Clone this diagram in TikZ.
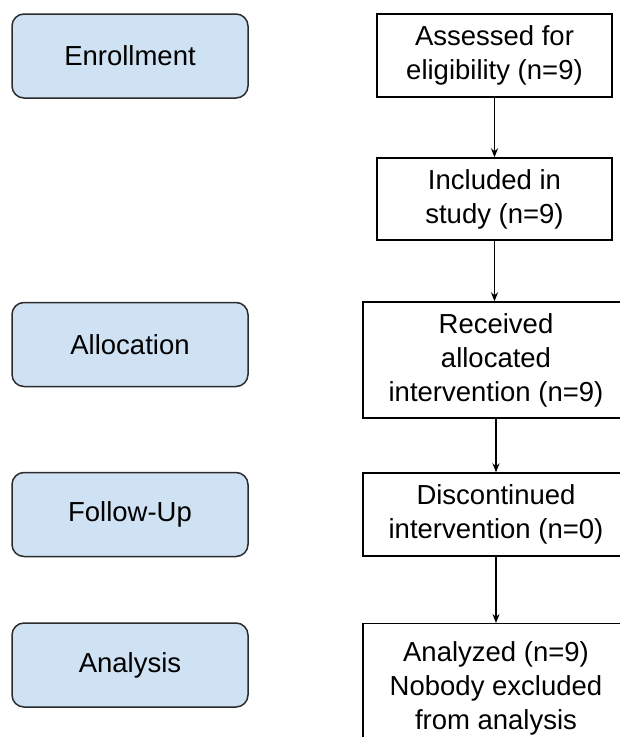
\documentclass[tikz,border=0pt]{standalone}
\usepackage{fontspec}
\setmainfont{Liberation Sans}
\usetikzlibrary{arrows.meta}
\definecolor{phasefill}{HTML}{CFE2F3}
\definecolor{phaseline}{HTML}{2B2B2B}
\tikzset{
  phase/.style={draw=phaseline, fill=phasefill, line width=1.5pt, rounded corners=12pt,
    minimum width=236pt, minimum height=84pt, inner sep=0pt, align=center,
    font=\fontsize{27.5}{34}\selectfont},
  flowbox/.style={draw=black, line width=1.4pt, fill=white, inner sep=0pt, align=center,
    font=\fontsize{27.5}{34}\selectfont},
  flowarrow/.style={draw=black, line width=1.4pt, -{Stealth[length=9pt,width=7pt]}}
}
\begin{document}
\begin{tikzpicture}[x=1pt,y=-1pt]
\useasboundingbox (0,0) rectangle (620,737);
\clip (0,0) rectangle (620,737);
\fill[white] (0,0) rectangle (620,737);
% phases
\node[phase] (enr) at (130,56) {Enrollment};
\node[phase] (alo) at (130,344.5) {Allocation};
\node[phase] (fol) at (130,514.5) {Follow-Up};
\node[phase] (ana) at (130,665) {Analysis};
% flow
\node[flowbox, minimum width=235pt, minimum height=83pt] (ass) at (494.5,55.5) {Assessed for\\eligibility (n=9)};
\node[flowbox, minimum width=235pt, minimum height=82pt] (inc) at (494.5,199) {Included in\\study (n=9)};
\node[flowbox, minimum width=266pt, minimum height=116pt] (rec) at (496,360) {Received\\allocated\\intervention (n=9)};
\node[flowbox, minimum width=266pt, minimum height=83pt] (dis) at (496,514.5) {Discontinued\\intervention (n=0)};
\node[flowbox, minimum width=266pt, minimum height=130pt, anchor=north] (anl) at (496,623) {Analyzed (n=9)\\Nobody excluded\\from analysis};
% arrows
\draw[flowarrow] (ass.south) -- (inc.north);
\draw[flowarrow] (inc.south) -- (inc.south |- rec.north);
\draw[flowarrow] (rec.south) -- (dis.north);
\draw[flowarrow] (dis.south) -- (anl.north);
\end{tikzpicture}
\end{document}
